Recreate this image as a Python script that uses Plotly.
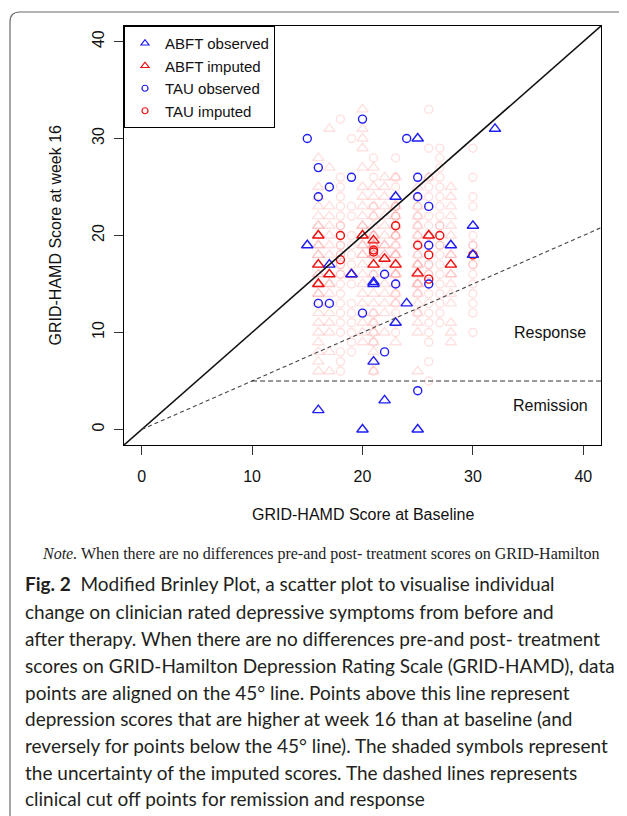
import plotly.graph_objects as go

# ---------------- data ----------------
# ABFT observed (blue triangles)
abft_obs_x = [15, 17, 19, 21, 21, 21, 22, 20, 16, 23, 23, 24, 25, 25, 28, 30, 30, 32]
abft_obs_y = [19, 17, 16, 15, 15.2, 7, 3, 0, 2, 24, 11, 13, 30, 0, 19, 21, 18, 31]

# TAU observed (blue circles)
tau_obs_x = [15, 16, 16, 17, 16, 17, 19, 20, 20, 22, 22, 23, 24, 25, 25, 25, 26, 26, 26]
tau_obs_y = [30, 27, 24, 25, 13, 13, 26, 32, 12, 16, 8, 15, 30, 26, 24, 4, 23, 19, 15]

# ABFT imputed (pooled, red triangles)
abft_imp_x = [16, 16, 16, 17, 19, 20, 21, 21, 22, 23, 25, 26, 28]
abft_imp_y = [20, 17, 15, 16, 16, 20, 19.5, 17, 17.6, 17, 16.1, 20, 17]

# TAU imputed (pooled, red circles)
tau_imp_x = [18, 18, 21, 21, 23, 25, 26, 26, 27, 30]
tau_imp_y = [20, 17.5, 18.5, 18.3, 21, 19, 18, 15.5, 20, 18]

# individual imputations (shaded triangles), one list of week-16 values per baseline score
abft_shade_base = [16, 17, 20, 21, 22, 23, 25, 26, 28]
abft_shade_vals = [
    [6, 7, 8, 9, 10, 11, 12, 13, 14, 14, 15, 15, 15, 16, 16, 17, 17, 17, 18, 18, 19, 19, 20, 20,
     21, 21, 22, 23, 24, 25, 28],
    [6, 8, 10, 11, 12, 13, 14, 15, 15, 16, 16, 17, 18, 19, 20, 21, 22, 23, 27, 31],
    [9, 10, 11, 12, 13, 14, 15, 16, 17, 18, 18, 19, 19, 20, 20, 21, 21, 22, 23, 24, 25, 27, 29,
     30, 31, 33],
    [6, 8, 9, 10, 11, 12, 13, 14, 15, 16, 17, 17, 18, 18, 19, 19, 20, 20, 21, 22, 23, 24, 25, 27],
    [10, 12, 13, 14, 15, 16, 17, 18, 18, 19, 19, 20, 21, 22, 23, 24, 25, 26],
    [9, 11, 13, 14, 15, 16, 16, 17, 17, 18, 18, 19, 20, 21, 22, 23, 26],
    [6, 10, 11, 12, 13, 14, 15, 15, 16, 16, 17, 17, 18, 19, 20, 21, 22, 23, 24, 25],
    [26],
    [9, 10, 11, 13, 14, 15, 16, 16, 17, 17, 18, 18, 19, 20, 21, 22, 23, 24, 25],
]

# individual imputations (shaded circles)
tau_shade_base = [18, 19, 21, 23, 25, 26, 27, 30]
tau_shade_vals = [
    [6, 7, 8, 10, 11, 12, 13, 14, 15, 16, 16, 17, 17, 18, 18, 19, 19, 20, 20, 21, 21, 22, 23,
     24, 25, 26, 32],
    [8, 9, 10, 11, 12, 13, 15, 16, 17, 18, 19, 20, 22, 23, 30],
    [6, 7, 9, 10, 11, 12, 16, 18, 18, 19, 19, 20, 22, 23, 26, 28],
    [10, 11, 12, 13, 14, 15, 16, 17, 18, 19, 20, 20, 21, 21, 22, 22, 23, 23, 24, 25, 26, 28],
    [12, 14, 15, 17, 18, 19, 20, 21, 22, 23, 24],
    [5, 7, 9, 10, 11, 12, 13, 14, 15, 15, 16, 16, 17, 17, 18, 18, 19, 19, 20, 20, 21, 22, 23,
     24, 25, 26, 29, 33],
    [11, 12, 13, 14, 15, 16, 17, 18, 19, 19, 20, 20, 21, 21, 22, 23, 24, 25, 26, 27, 28, 29],
    [10, 12, 13, 14, 15, 16, 17, 17, 18, 18, 19, 19, 20, 23, 24, 26, 29],
]

x_ticks = [0, 10, 20, 30, 40]
y_ticks = [0, 10, 20, 30, 40]
axis_range = [-1.6, 41.6]
response_ratio = 0.5      # 50% reduction from baseline
remission_cutoff = 5
remission_start = 10

legend_names = ["ABFT observed", "ABFT imputed", "TAU observed", "TAU imputed"]

caption_lines = [
    "<b>Fig. 2</b>  Modified Brinley Plot, a scatter plot to visualise individual",
    "change on clinician rated depressive symptoms from before and",
    "after therapy. When there are no differences pre-and post- treatment",
    "scores on GRID-Hamilton Depression Rating Scale (GRID-HAMD), data",
    "points are aligned on the 45° line. Points above this line represent",
    "depression scores that are higher at week 16 than at baseline (and",
    "reversely for points below the 45° line). The shaded symbols represent",
    "the uncertainty of the imputed scores. The dashed lines represents",
    "clinical cut off points for remission and response",
]
note_text = "<i>Note.</i> When there are no differences pre-and post- treatment scores on GRID-Hamilton"

# ---------------- figure ----------------
BLUE = "#1e1ef5"
RED = "#f01010"
PINK = "rgba(255,0,0,0.12)"
FONT = "Liberation Sans, Arial, sans-serif"

W, H = 627, 816
PAGE = 8                       # default page margin of the html body
BOX_L, BOX_R, BOX_T, BOX_B = 124, 601, 26, 445   # target plot box in the window
ML, MT = BOX_L - PAGE, BOX_T - PAGE
PW, PH = BOX_R - BOX_L, BOX_B - BOX_T
MR, MB = W - ML - PW, H - MT - PH


def px(X):
    return (X - BOX_L) / PW


def py(Y):
    return (BOX_B - Y) / PH


fig = go.Figure()

sx, sy = [], []
for b, vals in zip(abft_shade_base, abft_shade_vals):
    sx += [b] * len(vals)
    sy += vals
fig.add_trace(go.Scatter(x=sx, y=sy, mode="markers", showlegend=False, hoverinfo="skip",
                         marker=dict(symbol="triangle-up-open", size=10, color=PINK,
                                     line=dict(width=1.4, color=PINK))))
cx, cy = [], []
for b, vals in zip(tau_shade_base, tau_shade_vals):
    cx += [b] * len(vals)
    cy += vals
fig.add_trace(go.Scatter(x=cx, y=cy, mode="markers", showlegend=False, hoverinfo="skip",
                         marker=dict(symbol="circle-open", size=8, color=PINK,
                                     line=dict(width=1.4, color=PINK))))

fig.add_trace(go.Scatter(x=abft_imp_x, y=abft_imp_y, mode="markers", showlegend=False,
                         marker=dict(symbol="triangle-up-open", size=10, color=RED,
                                     line=dict(width=1.4, color=RED))))
fig.add_trace(go.Scatter(x=tau_imp_x, y=tau_imp_y, mode="markers", showlegend=False,
                         marker=dict(symbol="circle-open", size=8, color=RED,
                                     line=dict(width=1.4, color=RED))))
fig.add_trace(go.Scatter(x=abft_obs_x, y=abft_obs_y, mode="markers", showlegend=False,
                         marker=dict(symbol="triangle-up-open", size=10, color=BLUE,
                                     line=dict(width=1.4, color=BLUE))))
fig.add_trace(go.Scatter(x=tau_obs_x, y=tau_obs_y, mode="markers", showlegend=False,
                         marker=dict(symbol="circle-open", size=8, color=BLUE,
                                     line=dict(width=1.4, color=BLUE))))

# legend entries
leg_style = [("triangle-up-open", 7, BLUE), ("triangle-up-open", 7, RED),
             ("circle-open", 6, BLUE), ("circle-open", 6, RED)]
for name, (sym, sz, col) in zip(legend_names, leg_style):
    fig.add_trace(go.Scatter(x=[None], y=[None], mode="markers", name=name,
                             marker=dict(symbol=sym, size=sz, color=col,
                                         line=dict(width=1.2, color=col))))

# reference lines
fig.add_shape(type="line", xref="x", yref="y", x0=axis_range[0], y0=axis_range[0],
              x1=axis_range[1], y1=axis_range[1], line=dict(color="#111", width=1.6))
fig.add_shape(type="line", xref="x", yref="y", x0=0, y0=0,
              x1=axis_range[1], y1=axis_range[1] * response_ratio,
              line=dict(color="#444", width=1.1, dash="4px,3px"))
fig.add_shape(type="line", xref="x", yref="y", x0=remission_start, y0=remission_cutoff,
              x1=axis_range[1], y1=remission_cutoff,
              line=dict(color="#333", width=1.2, dash="5px,3px"))

# card border
x0, x1 = px(10), px(660)
y0, y1 = py(12), py(850)
rx, ry = 10 / PW, 10 / PH
fig.add_shape(type="path", xref="paper", yref="paper", layer="below",
              path=f"M {x0},{y1} L {x0},{y0 - ry} Q {x0},{y0} {x0 + rx},{y0} L {x1},{y0}",
              line=dict(color="#6a6a6a", width=1.2))

ann = []
ann.append(dict(x=37, y=10, xref="x", yref="y", text="Response", showarrow=False,
                font=dict(size=16, family=FONT, color="#111")))
ann.append(dict(x=37, y=2.5, xref="x", yref="y", text="Remission", showarrow=False,
                font=dict(size=16, family=FONT, color="#111")))
ann.append(dict(x=0.5, y=py(515), xref="paper", yref="paper", text="GRID-HAMD Score at Baseline",
                xanchor="center", yanchor="middle",
                showarrow=False, font=dict(size=16, family=FONT, color="#111")))
ann.append(dict(x=px(55), y=0.5, xref="paper", yref="paper", text="GRID-HAMD Score at week 16",
                xanchor="center", yanchor="middle",
                textangle=-90, showarrow=False, font=dict(size=16, family=FONT, color="#111")))
ann.append(dict(x=px(40), y=py(554), xref="paper", yref="paper", text=note_text,
                xanchor="left", yanchor="middle", showarrow=False,
                font=dict(size=16, family="Liberation Serif, Times New Roman, serif", color="#222")))
line_y = [583, 611, 638, 665, 692, 718, 745, 772, 798]
for t, yy in zip(caption_lines, line_y):
    ann.append(dict(x=px(23), y=py(yy), xref="paper", yref="paper", text=t,
                    xanchor="left", yanchor="middle", showarrow=False,
                    font=dict(size=19, family="Lato, sans-serif", color="#231f20")))

axis_common = dict(range=axis_range, showgrid=False, zeroline=False, showline=True,
                   mirror=True, linecolor="black", linewidth=1, ticks="outside",
                   ticklen=9, tickwidth=1, tickcolor="#333",
                   tickfont=dict(size=16, family=FONT, color="#111"))

fig.update_layout(
    width=W, height=H,
    margin=dict(l=ML, r=MR, t=MT, b=MB),
    paper_bgcolor="white", plot_bgcolor="white",
    xaxis=dict(**axis_common, tickvals=x_ticks, ticklabelstandoff=8),
    yaxis=dict(**axis_common, tickvals=y_ticks, tickangle=-90, ticklabelstandoff=4),
    legend=dict(x=0, y=1, xanchor="left", yanchor="top", bgcolor="white",
                bordercolor="black", borderwidth=1, itemwidth=30,
                font=dict(size=15, family=FONT, color="#111"), tracegroupgap=0),
    annotations=ann,
    showlegend=True,
)

fig.write_html("out.html")
